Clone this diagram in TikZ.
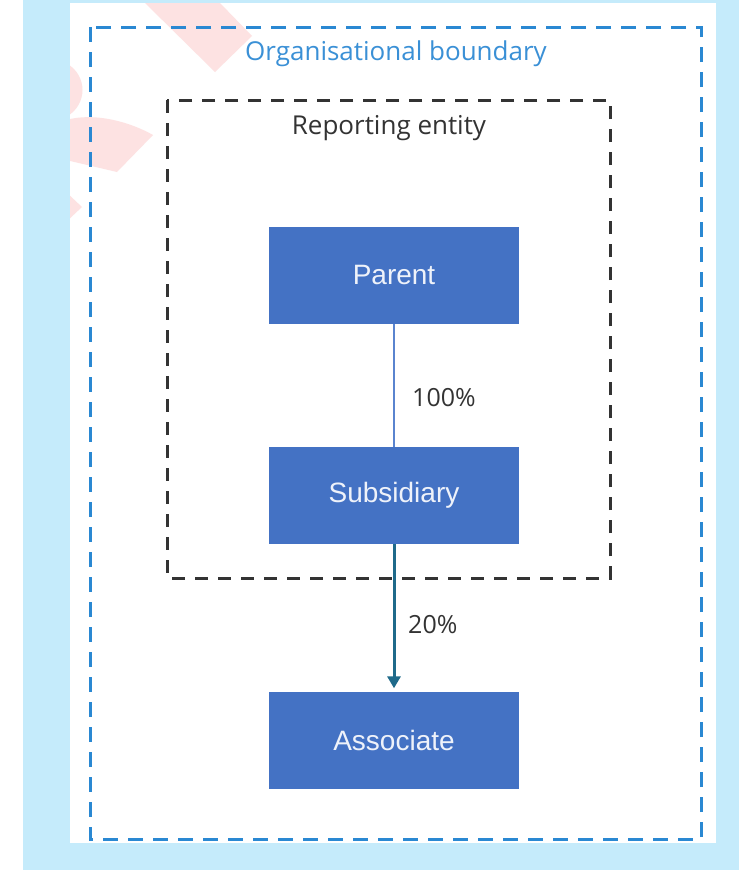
\documentclass[tikz,border=0pt]{standalone}
\usepackage{fontspec}
\setmainfont{Liberation Sans}
\newfontfamily\labelfont{Open Sans}
\usetikzlibrary{arrows.meta}

\definecolor{pagebg}{HTML}{C5EBFB}
\definecolor{boxblue}{HTML}{4472C4}
\definecolor{boxtext}{HTML}{EEF2FA}
\definecolor{orgblue}{HTML}{2A88D2}
\definecolor{orgtext}{HTML}{3A90D6}
\definecolor{repgray}{HTML}{333333}
\definecolor{linkblue}{HTML}{5A84CF}
\definecolor{arrowteal}{HTML}{1F6A8A}
\definecolor{stamp}{HTML}{FDE2E2}

\tikzset{
  entity/.style={rectangle, fill=boxblue, text=boxtext, inner sep=0pt,
    minimum width=250pt, minimum height=97pt,
    font=\fontsize{28}{32}\selectfont},
  share/.style={anchor=west, inner sep=0pt, text=black!80,
    font=\labelfont\fontsize{25}{29}\selectfont},
  caption/.style={inner sep=0pt, font=\labelfont\fontsize{26}{30}\selectfont},
  orgline/.style={draw=orgblue, line width=3pt, dash pattern=on 15pt off 10pt},
  repline/.style={draw=repgray, line width=3pt, dash pattern=on 13pt off 10pt},
}

\begin{document}
\begin{tikzpicture}[x=1pt, y=-1pt]
  % canvas and backdrop
  \useasboundingbox (0,0) rectangle (739,870);
  \fill[white] (0,0) rectangle (739,870);
  \fill[pagebg] (23,0) rectangle (739,870);
  \fill[white] (70,3) rectangle (716,843);

  % faint stamp fragments in the top-left corner
  \begin{scope}
    \clip (70,3) rectangle (716,843);
    \fill[stamp] (145,3) -- (215,72) -- (252,36) -- (220,3) -- cycle;
    \fill[stamp] (66,63) .. controls (88,75) and (88,105) .. (66,117) -- cycle;
    \fill[stamp] (66,120) .. controls (95,112) and (130,122) .. (153,135)
      -- (117,172) -- (66,160) -- cycle;
    \fill[stamp] (66,192) -- (82,207) -- (66,222) -- cycle;
  \end{scope}

  % boundaries
  \draw[orgline] (90,27) rectangle (701,839);
  \draw[repline] (167,100) rectangle (610,578);
  \node[caption, text=orgtext] (orgcap) at (396,54) {Organisational boundary};
  \node[caption, text=black!80] (repcap) at (389,128) {Reporting entity};

  % entities
  \node[entity] (parent) at (394,275.5) {Parent};
  \node[entity] (sub) at (394,495.5) {Subsidiary};
  \node[entity] (assoc) at (394,740) {Associate};

  % ownership links
  \draw[linkblue, line width=2.5pt] (parent.south) -- (sub.north);
  \draw[arrowteal, line width=3pt,
        -{Triangle[length=12pt, width=13pt]}, shorten >=3pt]
    (sub.south) -- (assoc.north);
  \node[share] (pct100) at (412,398) {100\%};
  \node[share] (pct20) at (408,625) {20\%};
\end{tikzpicture}
\end{document}
